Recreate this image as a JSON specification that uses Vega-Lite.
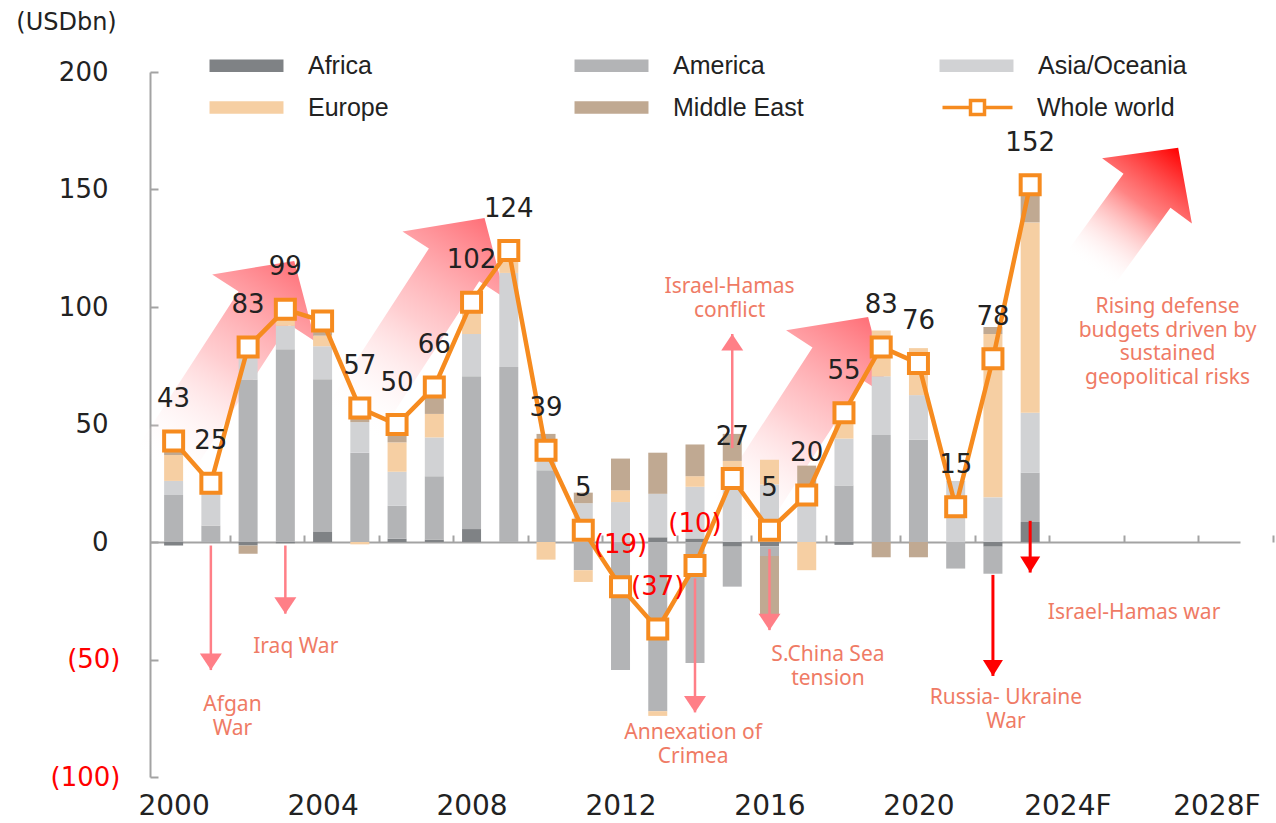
{
  "$schema": "https://vega.github.io/schema/vega-lite/v6.json",
  "width": 1090,
  "height": 705,
  "autosize": {"type": "none"},
  "padding": {"left": 150, "top": 72, "right": 36, "bottom": 46},
  "background": "white",
  "config": {"view": {"stroke": null}, "font": "DejaVu Sans"},
  "datasets": {
    "bars": [
      {"year": 2000, "region": "Africa", "value": -1.5}, {"year": 2000, "region": "America", "value": 20}, {"year": 2000, "region": "Asia/Oceania", "value": 6}, {"year": 2000, "region": "Europe", "value": 11}, {"year": 2000, "region": "Middle East", "value": 4},
      {"year": 2001, "region": "America", "value": 7}, {"year": 2001, "region": "Asia/Oceania", "value": 17},
      {"year": 2002, "region": "Africa", "value": -1.5}, {"year": 2002, "region": "America", "value": 69}, {"year": 2002, "region": "Asia/Oceania", "value": 14}, {"year": 2002, "region": "Middle East", "value": -3.5},
      {"year": 2003, "region": "Africa", "value": -0.5}, {"year": 2003, "region": "America", "value": 82}, {"year": 2003, "region": "Asia/Oceania", "value": 10}, {"year": 2003, "region": "Europe", "value": 3}, {"year": 2003, "region": "Middle East", "value": 4},
      {"year": 2004, "region": "Africa", "value": 4.3}, {"year": 2004, "region": "America", "value": 65}, {"year": 2004, "region": "Asia/Oceania", "value": 14}, {"year": 2004, "region": "Europe", "value": 4.5}, {"year": 2004, "region": "Middle East", "value": 5},
      {"year": 2005, "region": "America", "value": 38}, {"year": 2005, "region": "Asia/Oceania", "value": 13}, {"year": 2005, "region": "Europe", "value": -1}, {"year": 2005, "region": "Middle East", "value": 5},
      {"year": 2006, "region": "Africa", "value": 1.4}, {"year": 2006, "region": "America", "value": 14}, {"year": 2006, "region": "Asia/Oceania", "value": 14.5}, {"year": 2006, "region": "Europe", "value": 12.5}, {"year": 2006, "region": "Middle East", "value": 6},
      {"year": 2007, "region": "Africa", "value": 1}, {"year": 2007, "region": "America", "value": 27}, {"year": 2007, "region": "Asia/Oceania", "value": 16.5}, {"year": 2007, "region": "Europe", "value": 10}, {"year": 2007, "region": "Middle East", "value": 10},
      {"year": 2008, "region": "Africa", "value": 5.5}, {"year": 2008, "region": "America", "value": 65}, {"year": 2008, "region": "Asia/Oceania", "value": 18}, {"year": 2008, "region": "Europe", "value": 9}, {"year": 2008, "region": "Middle East", "value": 3},
      {"year": 2009, "region": "America", "value": 74.5}, {"year": 2009, "region": "Asia/Oceania", "value": 40}, {"year": 2009, "region": "Europe", "value": 6}, {"year": 2009, "region": "Middle East", "value": 2},
      {"year": 2010, "region": "America", "value": 30.5}, {"year": 2010, "region": "Asia/Oceania", "value": 9}, {"year": 2010, "region": "Europe", "value": -7.5}, {"year": 2010, "region": "Middle East", "value": 6.5},
      {"year": 2011, "region": "America", "value": -12}, {"year": 2011, "region": "Asia/Oceania", "value": 16.5}, {"year": 2011, "region": "Europe", "value": -5}, {"year": 2011, "region": "Middle East", "value": 4.5},
      {"year": 2012, "region": "America", "value": -54.5}, {"year": 2012, "region": "Asia/Oceania", "value": 17}, {"year": 2012, "region": "Europe", "value": 5}, {"year": 2012, "region": "Middle East", "value": 13.5},
      {"year": 2013, "region": "Africa", "value": 2}, {"year": 2013, "region": "America", "value": -72}, {"year": 2013, "region": "Asia/Oceania", "value": 18.5}, {"year": 2013, "region": "Europe", "value": -2}, {"year": 2013, "region": "Middle East", "value": 17.5},
      {"year": 2014, "region": "Africa", "value": 1.5}, {"year": 2014, "region": "America", "value": -51.5}, {"year": 2014, "region": "Asia/Oceania", "value": 22}, {"year": 2014, "region": "Europe", "value": 4.5}, {"year": 2014, "region": "Middle East", "value": 13.5},
      {"year": 2015, "region": "Africa", "value": -2}, {"year": 2015, "region": "America", "value": -17}, {"year": 2015, "region": "Asia/Oceania", "value": 31}, {"year": 2015, "region": "Europe", "value": 3.5}, {"year": 2015, "region": "Middle East", "value": 11.5},
      {"year": 2016, "region": "Africa", "value": -1.8}, {"year": 2016, "region": "America", "value": -4.2}, {"year": 2016, "region": "Asia/Oceania", "value": 24.5}, {"year": 2016, "region": "Europe", "value": 10.5}, {"year": 2016, "region": "Middle East", "value": -25},
      {"year": 2017, "region": "Asia/Oceania", "value": 23.5}, {"year": 2017, "region": "Europe", "value": -12}, {"year": 2017, "region": "Middle East", "value": 9},
      {"year": 2018, "region": "Africa", "value": -1.2}, {"year": 2018, "region": "America", "value": 24}, {"year": 2018, "region": "Asia/Oceania", "value": 20}, {"year": 2018, "region": "Europe", "value": 11},
      {"year": 2019, "region": "America", "value": 45.5}, {"year": 2019, "region": "Asia/Oceania", "value": 25}, {"year": 2019, "region": "Europe", "value": 19.5}, {"year": 2019, "region": "Middle East", "value": -6.5},
      {"year": 2020, "region": "America", "value": 43.5}, {"year": 2020, "region": "Asia/Oceania", "value": 19}, {"year": 2020, "region": "Europe", "value": 20}, {"year": 2020, "region": "Middle East", "value": -6.5},
      {"year": 2021, "region": "America", "value": -11.3}, {"year": 2021, "region": "Asia/Oceania", "value": 26},
      {"year": 2022, "region": "Africa", "value": -2}, {"year": 2022, "region": "America", "value": -11.5}, {"year": 2022, "region": "Asia/Oceania", "value": 19}, {"year": 2022, "region": "Europe", "value": 69.5}, {"year": 2022, "region": "Middle East", "value": 3},
      {"year": 2023, "region": "Africa", "value": 8.5}, {"year": 2023, "region": "America", "value": 21}, {"year": 2023, "region": "Asia/Oceania", "value": 25.5}, {"year": 2023, "region": "Europe", "value": 81}, {"year": 2023, "region": "Middle East", "value": 16}
    ],
    "world": [
      {"year": 2000, "value": 43, "series": "Whole world"}, {"year": 2001, "value": 25, "series": "Whole world"}, {"year": 2002, "value": 83, "series": "Whole world"}, {"year": 2003, "value": 99, "series": "Whole world"},
      {"year": 2004, "value": 94, "series": "Whole world"}, {"year": 2005, "value": 57, "series": "Whole world"}, {"year": 2006, "value": 50, "series": "Whole world"}, {"year": 2007, "value": 66, "series": "Whole world"},
      {"year": 2008, "value": 102, "series": "Whole world"}, {"year": 2009, "value": 124, "series": "Whole world"}, {"year": 2010, "value": 39, "series": "Whole world"}, {"year": 2011, "value": 5, "series": "Whole world"},
      {"year": 2012, "value": -19, "series": "Whole world"}, {"year": 2013, "value": -37, "series": "Whole world"}, {"year": 2014, "value": -10, "series": "Whole world"}, {"year": 2015, "value": 27, "series": "Whole world"},
      {"year": 2016, "value": 5, "series": "Whole world"}, {"year": 2017, "value": 20, "series": "Whole world"}, {"year": 2018, "value": 55, "series": "Whole world"}, {"year": 2019, "value": 83, "series": "Whole world"},
      {"year": 2020, "value": 76, "series": "Whole world"}, {"year": 2021, "value": 15, "series": "Whole world"}, {"year": 2022, "value": 78, "series": "Whole world"}, {"year": 2023, "value": 152, "series": "Whole world"}
    ],
    "bigArrows": [
      {"year": 2001.44, "value": 75.7}, {"year": 2006.55, "value": 94.0}, {"year": 2016.85, "value": 51.9}
    ],
    "bigArrowRed": [
      {"year": 2025.79, "value": 141.9}
    ],
    "pinkArrows": [
      {"year": 2001, "value": -1.5, "value2": -54.5, "dir": "down"},
      {"year": 2003, "value": -1.5, "value2": -30.5, "dir": "down"},
      {"year": 2014, "value": -15.5, "value2": -72.5, "dir": "down"},
      {"year": 2015, "value": 40, "value2": 88.5, "dir": "up"},
      {"year": 2016, "value": -3, "value2": -37.5, "dir": "down"}
    ],
    "redArrows": [
      {"year": 2022, "value": -14, "value2": -57, "dir": "down"},
      {"year": 2023, "value": 9, "value2": -13, "dir": "down"}
    ],
    "notes": [
      {"year": 2001.58, "value": -69.4, "text": ["Afgan", "War"]},
      {"year": 2003.28, "value": -44.7, "text": ["Iraq War"]},
      {"year": 2014.93, "value": 108.5, "text": ["Israel-Hamas", "conflict"]},
      {"year": 2013.95, "value": -81.3, "text": ["Annexation of", "Crimea"]},
      {"year": 2017.57, "value": -48.1, "text": ["S.China Sea", "tension"]},
      {"year": 2022.35, "value": -66.4, "text": ["Russia- Ukraine", "War"]},
      {"year": 2025.79, "value": -30.2, "text": ["Israel-Hamas war"]},
      {"year": 2026.69, "value": 100, "text": ["Rising defense", "budgets driven by", "sustained", "geopolitical risks"]}
    ]
  },
  "encoding": {
    "x": {
      "field": "year", "type": "quantitative",
      "scale": {"domain": [1999.5, 2028.5], "nice": false, "zero": false},
      "axis": {
        "title": null, "orient": "bottom", "offset": -235,
        "values": [2000, 2002, 2004, 2006, 2008, 2010, 2012, 2014, 2016, 2018, 2020, 2022, 2024, 2026, 2028],
        "labelExpr": "datum.value % 4 == 0 ? (datum.value >= 2024 ? datum.value + 'F' : '' + datum.value) : ''",
        "tickOffset": 56.38, "labelOffset": -56.38,
        "tickSize": -7, "tickWidth": 2, "tickColor": "#a3a3a3",
        "domainColor": "#a3a3a3", "domainWidth": 2,
        "grid": false, "labelFont": "DejaVu Sans", "labelFontSize": 28, "labelColor": "#222222",
        "labelPadding": 257, "labelFlush": false, "labelOverlap": false, "labelBound": false
      }
    },
    "y": {
      "field": "value", "type": "quantitative",
      "scale": {"domain": [-100, 200], "nice": false, "zero": false},
      "axis": {
        "title": "(USDbn)", "titleAngle": 0, "titleX": -84, "titleY": -50, "titleAlign": "center", "titleBaseline": "middle",
        "titleFont": "DejaVu Sans", "titleFontSize": 24, "titleFontWeight": "normal", "titleColor": "#222222",
        "values": [-100, -50, 0, 50, 100, 150, 200],
        "labelExpr": "datum.value < 0 ? '(' + abs(datum.value) + ')' : '' + datum.value",
        "labelColor": {"condition": {"test": "datum.value < 0", "value": "#ff0000"}, "value": "#222222"},
        "labelPadding": {"condition": {"test": "datum.value < 0", "value": 38}, "value": 50},
        "labelFont": "DejaVu Sans", "labelFontSize": 26,
        "tickSize": -8, "tickWidth": 2, "tickColor": "#a3a3a3",
        "domainColor": "#a3a3a3", "domainWidth": 2, "grid": false
      }
    }
  },
  "layer": [
    {
      "data": {"name": "bigArrows"},
      "mark": {
        "type": "point", "filled": true, "opacity": 1, "strokeWidth": 0, "angle": 33, "size": 60516,
        "shape": "M0,-1L0.5,-0.545L0.244,-0.545L0.244,1L-0.244,1L-0.244,-0.545L-0.5,-0.545Z",
        "fill": {"gradient": "linear", "x1": 0, "y1": 1, "x2": 0, "y2": 0,
          "stops": [{"offset": 0, "color": "rgba(255,255,255,0)"}, {"offset": 0.5, "color": "rgba(255,165,170,0.55)"}, {"offset": 1, "color": "#ff6f77"}]}
      }
    },
    {
      "data": {"name": "bigArrowRed"},
      "mark": {
        "type": "point", "filled": true, "opacity": 1, "strokeWidth": 0, "angle": 36, "size": 22500,
        "shape": "M0,-1L0.74,-0.293L0.387,-0.293L0.387,1L-0.387,1L-0.387,-0.293L-0.74,-0.293Z",
        "fill": {"gradient": "linear", "x1": 0, "y1": 1, "x2": 0, "y2": 0,
          "stops": [{"offset": 0, "color": "rgba(255,255,255,0)"}, {"offset": 0.55, "color": "rgba(255,90,90,0.75)"}, {"offset": 1, "color": "#ff0000"}]}
      }
    },
    {
      "data": {"name": "bars"},
      "mark": {"type": "bar", "width": 19},
      "encoding": {
        "order": {"field": "region", "type": "nominal", "sort": "ascending"},
        "color": {
          "field": "region", "type": "nominal",
          "scale": {"domain": ["Africa", "America", "Asia/Oceania", "Europe", "Middle East"], "range": ["#7f8285", "#b3b4b6", "#d1d2d4", "#f6cfa3", "#c0a992"]},
          "legend": {
            "title": null, "orient": "none", "direction": "horizontal", "legendX": 84, "legendY": -19, "columns": 3, "gridAlign": "all",
            "columnPadding": 117, "rowPadding": 16, "padding": 0,
            "symbolType": "M-6,-1H6V1H-6Z", "symbolSize": 152, "symbolStrokeWidth": 0, "symbolOpacity": 1,
            "labelFont": "Liberation Sans", "labelFontSize": 25, "labelColor": "#222222", "labelOffset": 49, "labelLimit": 400
          }
        }
      }
    },
    {
      "data": {"name": "pinkArrows"},
      "mark": {"type": "rule", "color": "#ff7f87", "strokeWidth": 2.5},
      "encoding": {"y2": {"field": "value2"}}
    },
    {
      "data": {"name": "redArrows"},
      "mark": {"type": "rule", "color": "#ff0000", "strokeWidth": 3},
      "encoding": {"y2": {"field": "value2"}}
    },
    {
      "data": {"name": "pinkArrows"},
      "transform": [{"filter": "datum.dir == 'down'"}],
      "mark": {"type": "point", "filled": true, "opacity": 1, "strokeWidth": 0, "color": "#ff7f87", "size": 484, "shape": "M-1,-1.5L1,-1.5L0,0Z"},
      "encoding": {"y": {"field": "value2", "type": "quantitative", "title": null}}
    },
    {
      "data": {"name": "pinkArrows"},
      "transform": [{"filter": "datum.dir == 'up'"}],
      "mark": {"type": "point", "filled": true, "opacity": 1, "strokeWidth": 0, "color": "#ff7f87", "size": 484, "shape": "M-1,1.5L1,1.5L0,0Z"},
      "encoding": {"y": {"field": "value2", "type": "quantitative", "title": null}}
    },
    {
      "data": {"name": "redArrows"},
      "mark": {"type": "point", "filled": true, "opacity": 1, "strokeWidth": 0, "color": "#ff0000", "size": 400, "shape": "M-1,-1.6L1,-1.6L0,0Z"},
      "encoding": {"y": {"field": "value2", "type": "quantitative", "title": null}}
    },
    {
      "data": {"name": "world"},
      "mark": {"type": "line", "strokeWidth": 4.5},
      "encoding": {
        "stroke": {
          "field": "series", "type": "nominal",
          "scale": {"domain": ["Whole world"], "range": ["#f68b1f"]},
          "legend": {
            "title": null, "orient": "none", "legendX": 815, "legendY": 23, "padding": 0,
            "symbolType": "M-5,0H-1M1,0H5M-1,-1H1V1H-1Z", "symbolSize": 196, "symbolStrokeWidth": 3.5,
            "symbolFillColor": "#ffffff", "symbolOpacity": 1,
            "labelFont": "Liberation Sans", "labelFontSize": 25, "labelColor": "#222222", "labelOffset": 47, "labelLimit": 400
          }
        }
      }
    },
    {
      "data": {"name": "world"},
      "mark": {"type": "point", "shape": "square", "size": 361, "filled": true, "fill": "#ffffff", "stroke": "#f68b1f", "strokeWidth": 4, "opacity": 1}
    },
    {
      "data": {"name": "world"},
      "transform": [{"filter": "datum.year != 2004"}],
      "mark": {"type": "text", "dy": -42, "font": "DejaVu Sans", "fontSize": 26, "align": "center", "baseline": "middle"},
      "encoding": {
        "text": {"field": "value", "type": "quantitative", "format": "(.0f"},
        "color": {"condition": {"test": "datum.value < 0", "value": "#ff0000"}, "value": "#222222"}
      }
    },
    {
      "data": {"name": "notes"},
      "mark": {"type": "text", "font": "Noto Sans", "fontSize": 21, "lineHeight": 23.5, "align": "center", "baseline": "middle", "color": "#ef7b65"},
      "encoding": {"text": {"field": "text"}}
    }
  ]
}
